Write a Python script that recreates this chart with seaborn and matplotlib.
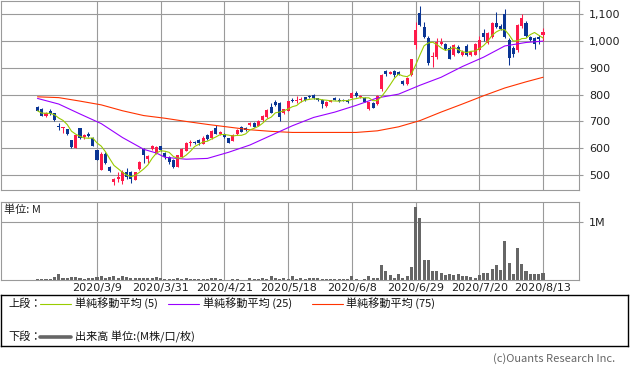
import numpy as np
import pandas as pd
import matplotlib
matplotlib.use("Agg")
import matplotlib.pyplot as plt
import seaborn as sns

# daily candles, 2020/2 - 2020/8/13 (one entry per trading day)
opens = [755, 748, 722, 738, 730, 682, 675, 670, 630, 601, 675, 641, 655, 640, 593, 520, 578, 530, 475, 485,
         478, 510, 510, 482, 522, 598, 559, 597, 580, 608, 581, 568, 555, 531, 568, 591, 618, 625, 630, 616,
         649, 637, 677, 653, 655, 637, 628, 652, 680, 677, 686, 695, 684, 705, 715, 753, 774, 770, 732, 740,
         782, 778, 780, 790, 793, 799, 786, 782, 757, 774, 789, 782, 780, 782, 789, 807, 792, 789, 746, 770,
         765, 820, 889, 879, 889, 885, 851, 840, 873, 985, 1104, 1054, 1010, 940, 939, 988, 989, 973, 948, 979,
         948, 982, 948, 950, 966, 1031, 994, 1016, 1066, 1058, 1101, 1004, 973, 967, 1056, 1066, 1014, 1010, 1016, 1022]
highs = [758, 750, 735, 745, 733, 693, 680, 672, 632, 650, 677, 655, 660, 642, 595, 586, 585, 532, 490, 512,
         520, 525, 515, 512, 552, 600, 575, 612, 607, 610, 586, 572, 558, 576, 600, 625, 632, 628, 633, 645,
         655, 668, 685, 665, 658, 640, 652, 670, 684, 680, 698, 697, 705, 723, 745, 770, 780, 772, 747, 778,
         786, 795, 790, 792, 798, 801, 789, 784, 776, 782, 792, 786, 785, 785, 810, 812, 800, 791, 773, 773,
         800, 876, 893, 890, 892, 888, 855, 866, 935, 1070, 1130, 1072, 1020, 958, 1010, 1012, 992, 980, 990, 985,
         968, 988, 965, 992, 1020, 1045, 1035, 1072, 1110, 1065, 1120, 1010, 980, 1065, 1100, 1075, 1020, 1015, 1022, 1050]
lows = [738, 720, 718, 725, 700, 668, 658, 648, 602, 600, 636, 635, 643, 608, 555, 518, 540, 512, 462, 475,
        465, 485, 470, 480, 520, 545, 545, 592, 578, 590, 560, 540, 525, 530, 566, 590, 608, 615, 612, 614,
        630, 635, 652, 648, 638, 618, 626, 650, 660, 665, 684, 678, 682, 703, 713, 730, 758, 700, 728, 738,
        774, 770, 774, 778, 788, 784, 778, 752, 755, 772, 780, 774, 775, 769, 787, 793, 788, 772, 743, 750,
        762, 815, 870, 876, 865, 872, 838, 836, 870, 970, 1055, 1010, 912, 905, 935, 985, 966, 932, 945, 955,
        945, 945, 945, 948, 962, 1000, 990, 1012, 1050, 1040, 1010, 910, 940, 960, 1050, 1015, 1000, 970, 990, 1000]
closes = [740, 722, 730, 728, 705, 679, 678, 652, 604, 649, 638, 650, 645, 610, 556, 578, 545, 515, 485, 493,
          512, 494, 485, 510, 549, 575, 571, 609, 605, 593, 566, 550, 530, 575, 597, 620, 622, 618, 618, 640,
          633, 665, 655, 662, 641, 621, 649, 668, 662, 668, 695, 680, 703, 721, 743, 733, 761, 718, 745, 776,
          776, 782, 784, 780, 791, 786, 780, 767, 773, 780, 782, 777, 778, 771, 805, 795, 796, 774, 771, 752,
          796, 873, 877, 885, 873, 875, 840, 864, 932, 1041, 1060, 1016, 917, 946, 998, 998, 969, 935, 985, 957,
          960, 948, 960, 990, 1004, 1014, 1031, 1069, 1054, 1045, 1014, 936, 952, 1060, 1085, 1019, 1006, 991, 1008, 1035]

# volume in M shares
volume = [0.023, 0.023, 0.023, 0.023, 0.057, 0.103, 0.046, 0.046, 0.057, 0.057, 0.034, 0.023, 0.034, 0.046,
          0.057, 0.075, 0.046, 0.057, 0.075, 0.046, 0.075, 0.057, 0.046, 0.046, 0.046, 0.046, 0.034, 0.046,
          0.057, 0.034, 0.023, 0.023, 0.023, 0.034, 0.023, 0.034, 0.023, 0.023, 0.023, 0.023, 0.023, 0.034,
          0.034, 0.023, 0.003, 0.011, 0.023, 0.023, 0.011, 0.011, 0.034, 0.023, 0.023, 0.034, 0.023, 0.069,
          0.034, 0.023, 0.034, 0.023, 0.069, 0.023, 0.034, 0.023, 0.034, 0.034, 0.034, 0.023, 0.023, 0.023,
          0.023, 0.023, 0.023, 0.023, 0.075, 0.023, 0.011, 0.023, 0.075, 0.040, 0.040, 0.264, 0.161, 0.092,
          0.040, 0.109, 0.046, 0.075, 0.230, 1.264, 1.075, 0.351, 0.351, 0.161, 0.161, 0.121, 0.092, 0.109,
          0.098, 0.109, 0.075, 0.075, 0.057, 0.040, 0.092, 0.126, 0.126, 0.195, 0.264, 0.178, 0.678, 0.299,
          0.109, 0.557, 0.282, 0.161, 0.109, 0.109, 0.109, 0.126]

# 25 / 75 day averages (they need data from before the window)
ma25_pos = [0, 5, 10, 15, 20, 25, 28, 30, 35, 40, 45, 50, 55, 60, 65, 70, 75, 80, 85, 90, 95, 100, 105, 110, 115, 119]
ma25_val = [786, 765, 728, 692, 640, 596, 582, 566, 559, 562, 585, 612, 648, 684, 715, 735, 760, 788, 802, 835,
            865, 905, 940, 982, 995, 1000]
ma75_pos = [0, 5, 10, 15, 20, 25, 30, 35, 40, 45, 50, 55, 60, 65, 70, 75, 80, 85, 90, 95, 100, 105, 110, 115, 119]
ma75_val = [792, 789, 776, 762, 740, 722, 712, 700, 689, 679, 669, 663, 659, 659, 659, 659, 665, 680, 703, 735,
            765, 796, 825, 848, 865]

tick_pos = [14, 29, 44, 59, 74, 89, 104, 119]
tick_labels = ["2020/3/9", "2020/3/31", "2020/4/21", "2020/5/18", "2020/6/8", "2020/6/29", "2020/7/20", "2020/8/13"]
price_ticks = [500, 600, 700, 800, 900, 1000, 1100]

UP = "#ff1a4a"
DOWN = "#0a3594"
GRID = "#9a9a9a"
C5, C25, C75 = "#99cc00", "#9900ff", "#ff3300"
JP = ["Noto Sans CJK JP", "DejaVu Sans"]

sns.set_style("white")
plt.rcParams["font.family"] = ["DejaVu Sans", "Noto Sans CJK JP"]

df = pd.DataFrame({"open": opens, "high": highs, "low": lows, "close": closes, "volume": volume})
df["idx"] = np.arange(len(df))
df["ma5"] = df["close"].rolling(5, min_periods=1).mean()
df["up"] = df["close"] >= df["open"]

W, H = 633, 375
fig = plt.figure(figsize=(W / 100, H / 100), dpi=100)


def box(x0, y0, x1, y1):
    return [x0 / W, 1 - y1 / H, (x1 - x0) / W, (y1 - y0) / H]


ax = fig.add_axes(box(0.8, 0.7, 579, 190))
axv = fig.add_axes(box(0.8, 201.7, 579, 280.3))
axl = fig.add_axes(box(0.5, 295.3, 628, 346))

# --- candles
cols = np.where(df["up"], UP, DOWN)
body_lo = df[["open", "close"]].min(axis=1)
body_h = (df["open"] - df["close"]).abs().clip(lower=3)
ax.vlines(df["idx"], df["low"], df["high"], colors=cols, lw=0.75, zorder=3)
ax.bar(df["idx"], body_h, bottom=body_lo, width=0.72, color=cols, lw=0, zorder=3)

# --- moving averages
sns.lineplot(x=ma75_pos, y=ma75_val, color=C75, lw=0.8, ax=ax, zorder=4)
sns.lineplot(x=ma25_pos, y=ma25_val, color=C25, lw=0.8, ax=ax, zorder=4)
sns.lineplot(data=df, x="idx", y="ma5", color=C5, lw=0.8, ax=ax, zorder=5)

ax.set_xlim(-8.64, 127.47)
ax.set_ylim(444, 1151)
ax.set_xticks(tick_pos)
ax.set_xticklabels([])
ax.set_yticks(price_ticks)
ax.set_yticklabels([f"{v:,}" for v in price_ticks])
ax.yaxis.tick_right()
ax.grid(True, color=GRID, lw=0.8, zorder=0)
ax.set_axisbelow(True)
ax.tick_params(axis="x", length=0)
ax.tick_params(axis="y", length=3, color=GRID, width=0.8, pad=4.2, labelsize=8, labelcolor="#222222")
ax.set_xlabel("")
ax.set_ylabel("")
for s in ax.spines.values():
    s.set_color(GRID)
    s.set_linewidth(0.8)

# --- volume
sns.barplot(data=df, x="idx", y="volume", native_scale=True, color="#666666", saturation=1,
            width=0.72, errorbar=None, linewidth=0, ax=axv)
axv.set_xlim(-8.64, 127.47)
axv.set_ylim(0, 1.355)
axv.set_xticks(tick_pos)
axv.set_xticklabels(tick_labels)
axv.set_yticks([1])
axv.set_yticklabels(["1M"])
axv.yaxis.tick_right()
axv.grid(True, color=GRID, lw=0.8, zorder=0)
axv.set_axisbelow(True)
axv.tick_params(axis="x", length=0, pad=1.8, labelsize=8, labelcolor="#222222")
axv.tick_params(axis="y", length=3, color=GRID, width=0.8, pad=4.2, labelsize=8, labelcolor="#222222")
axv.set_xlabel("")
axv.set_ylabel("")
for s in axv.spines.values():
    s.set_color(GRID)
    s.set_linewidth(0.8)
axv.spines["bottom"].set_linestyle((0, (1, 1)))
fig.text(4 / W, 1 - 210 / H, "単位: M", family=JP, fontsize=8, va="center", color="#222222")

# --- legend box (pixel coordinates)
axl.set_xlim(0.5, 628)
axl.set_ylim(346, 295.3)
axl.set_xticks([])
axl.set_yticks([])
for s in axl.spines.values():
    s.set_color("black")
    s.set_linewidth(1)
kw = dict(family=JP, fontsize=8, va="center", color="#111111")
axl.text(8, 303.5, "上段：", **kw)
axl.plot([40, 71], [303.5, 303.5], color=C5, lw=0.8)
axl.text(75, 303.5, "単純移動平均 (5)", **kw)
axl.plot([168, 199], [303.5, 303.5], color=C25, lw=0.8)
axl.text(203, 303.5, "単純移動平均 (25)", **kw)
axl.plot([312, 343], [303.5, 303.5], color=C75, lw=0.8)
axl.text(346, 303.5, "単純移動平均 (75)", **kw)
axl.text(8, 337, "下段：", **kw)
axl.plot([40, 71], [337, 337], color="#666666", lw=2.6)
axl.text(75, 337, "出来高 単位:(M株/口/枚)", **kw)

fig.text(615 / W, 1 - 359 / H, "(c)Ouants Research Inc.", family=JP, fontsize=8,
         ha="right", va="center", color="#666666")

fig.savefig("out.png", dpi=100)
